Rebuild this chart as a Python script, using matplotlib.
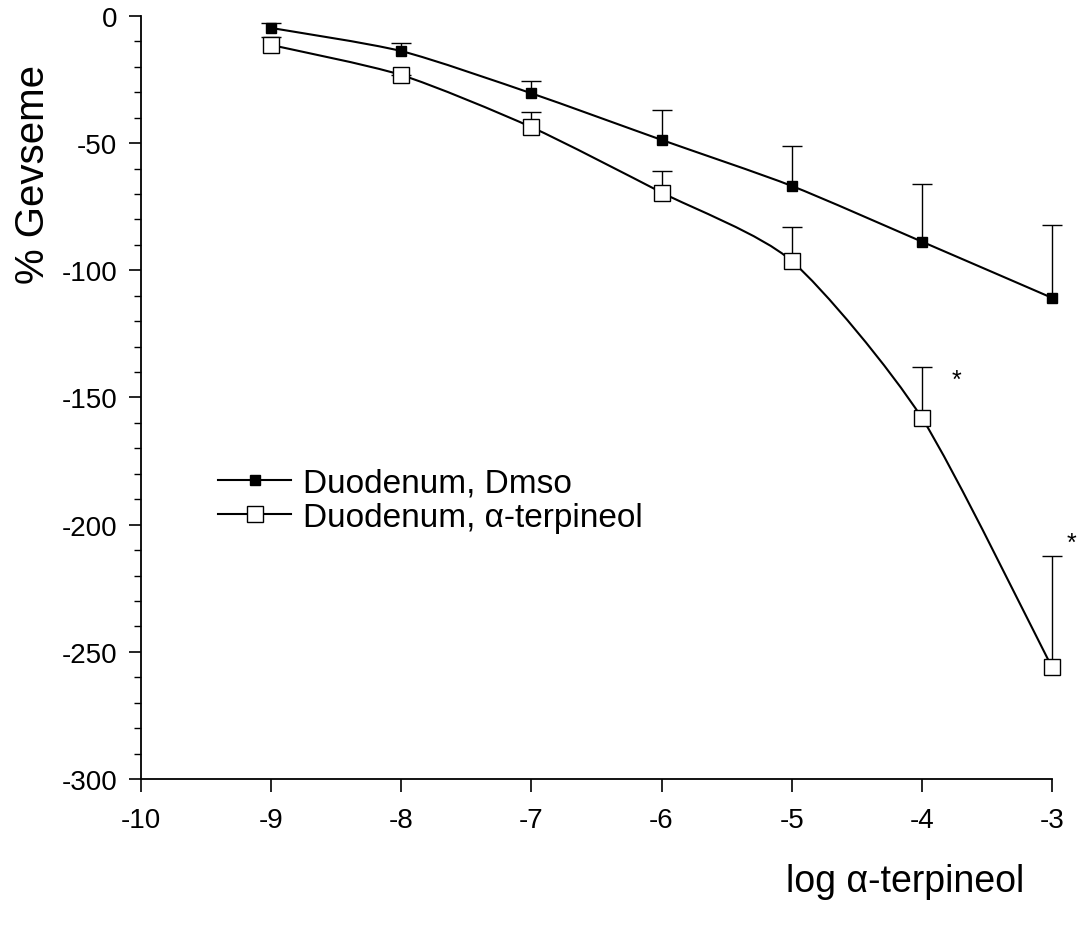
import numpy as np
import matplotlib
matplotlib.use('Agg')
import matplotlib.pyplot as plt
from matplotlib.path import Path
from matplotlib.patches import PathPatch
from matplotlib.ticker import MultipleLocator

plt.rcParams['font.family'] = ['Liberation Sans', 'DejaVu Sans']
plt.rcParams['axes.unicode_minus'] = False

log_conc = [-9, -8, -7, -6, -5, -4, -3]
dmso_mean = [-4.7, -13.8, -30.4, -48.7, -66.8, -88.7, -110.8]
dmso_sem = [2.0, 3.2, 4.8, 11.7, 15.7, 22.8, 28.7]
terp_mean = [-11.4, -23.2, -43.7, -69.4, -96.3, -158.0, -256.0]
terp_sem = [3.0, 0.0, 5.9, 8.3, 13.4, 20.1, 43.6]
star_x = [-3.73, -2.85]
star_y = [-143, -207]


def smooth_path(xs, ys, k=0.12):
    # Catmull-Rom style curve through the points, as cubic Bezier segments
    pts = np.column_stack([xs, ys]).astype(float)
    ext = np.vstack([pts[0], pts, pts[-1]])
    verts = [pts[0]]
    codes = [Path.MOVETO]
    for i in range(1, len(ext) - 2):
        p0, p1, p2, p3 = ext[i - 1], ext[i], ext[i + 1], ext[i + 2]
        verts += [p1 + (p2 - p0) * k, p2 - (p3 - p1) * k, p2]
        codes += [Path.CURVE4] * 3
    return Path(verts, codes)


fig = plt.figure(figsize=(10.87, 9.29), dpi=100)
ax = fig.add_axes([0.1297, 0.1604, 0.838, 0.8213])

for mean, sem, ms, fc in [(dmso_mean, dmso_sem, 7, 'black'),
                          (terp_mean, terp_sem, 12, 'white')]:
    ax.add_patch(PathPatch(smooth_path(log_conc, mean), fill=False,
                           edgecolor='black', lw=1.5, zorder=2, clip_on=False))
    eb = ax.errorbar(log_conc, mean, yerr=[np.zeros(len(sem)), sem], fmt='none',
                     ecolor='black', elinewidth=1.0, capsize=7, capthick=1.0,
                     zorder=1, clip_on=False)
    # only the upper caps are drawn in the original
    eb[1][0].set_visible(False)
    ax.plot(log_conc, mean, linestyle='none', marker='s', markersize=ms,
            markerfacecolor=fc, markeredgecolor='black', markeredgewidth=1.0,
            zorder=3, clip_on=False)

for sx, sy in zip(star_x, star_y):
    ax.text(sx, sy, '*', fontsize=18, ha='center', va='center')

# legend handles
h1, = ax.plot([], [], color='black', lw=1.5, marker='s', markersize=7,
              markerfacecolor='black', markeredgecolor='black')
h2, = ax.plot([], [], color='black', lw=1.5, marker='s', markersize=12,
              markerfacecolor='white', markeredgecolor='black')
ax.legend([h1, h2], ['Duodenum, Dmso', 'Duodenum, \u03b1-terpineol'],
          loc='upper left', bbox_to_anchor=(0.07, 0.426), frameon=False,
          fontsize=24, handlelength=2.2, handletextpad=0.35, labelspacing=0.1,
          borderaxespad=0)

ax.set_xlim(-10, -3)
ax.set_ylim(-300, 0)
ax.xaxis.set_major_locator(MultipleLocator(1))
ax.yaxis.set_major_locator(MultipleLocator(50))
ax.yaxis.set_minor_locator(MultipleLocator(10))
ax.spines['top'].set_visible(False)
ax.spines['right'].set_visible(False)
for s in ['left', 'bottom']:
    ax.spines[s].set_linewidth(1.3)
ax.tick_params(axis='both', which='major', length=9, width=1.2,
               labelsize=20, direction='out')
ax.tick_params(axis='x', pad=11)
ax.tick_params(axis='y', pad=8)
ax.tick_params(axis='y', which='minor', length=5, width=1.0)

fig.text(0.030, 1 - 175 / 929, '% Gevseme', rotation=90, fontsize=29,
         ha='center', va='center')
fig.text(0.833, 1 - 882 / 929, 'log \u03b1-terpineol', fontsize=27,
         ha='center', va='center')

plt.savefig('out.png', dpi=100)
